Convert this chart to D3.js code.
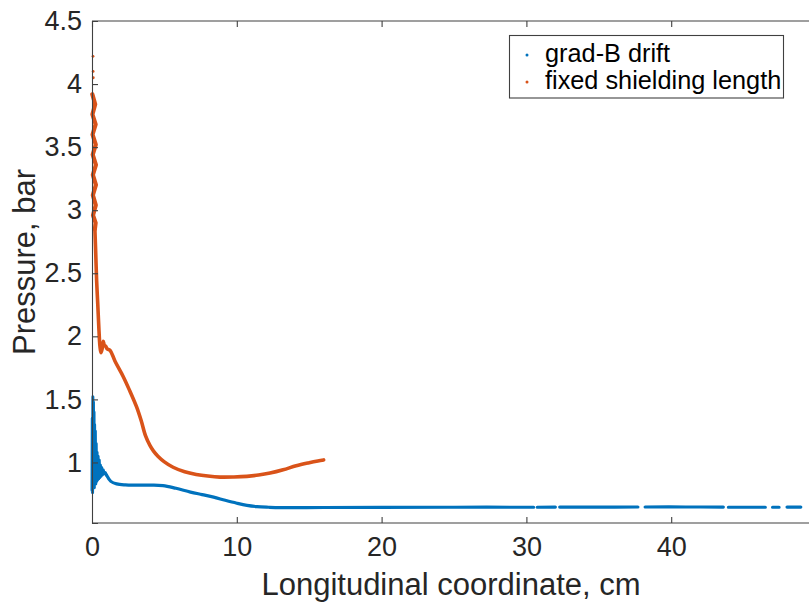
<!DOCTYPE html>
<html>
<head>
<meta charset="utf-8">
<script src="https://cdn.jsdelivr.net/npm/d3@7"></script>
<style>
  body { margin: 0; background: #fff; }
  svg { display: block; font-family: "Liberation Sans", Arial, Helvetica, sans-serif; }
</style>
</head>
<body>
<svg id="chart" width="809" height="603"></svg>
<script>
// ---- Data ----
const xTicks = [0, 10, 20, 30, 40];
const yTicks = [1, 1.5, 2, 2.5, 3, 3.5, 4, 4.5];
const seriesNames = ["grad-B drift", "fixed shielding length"];
const seriesColors = ["#0072BD", "#D95319"];

// fixed shielding length (orange): isolated top dots
const orangeDotX = [0.00, 0.01, 0.02];
const orangeDotY = [4.22, 4.10, 4.05];
// noisy column near x = 0
const orangeColX = [0.02, 0.22, 0.03, 0.25, 0.04, 0.26, 0.05, 0.27, 0.06, 0.27, 0.06, 0.26, 0.07, 0.25, 0.20];
const orangeColY = [3.92, 3.84, 3.76, 3.68, 3.60, 3.52, 3.44, 3.36, 3.28, 3.20, 3.12, 3.04, 2.96, 2.90, 2.85];
// smooth part
const orangeX = [0.20, 0.26, 0.32, 0.40, 0.48, 0.55, 0.62, 0.70, 0.78, 0.85, 0.95, 1.05, 1.24, 1.60, 2.16, 2.60, 3.08, 3.40,
  3.70, 4.00, 4.25, 4.55, 5.00, 5.60, 6.40, 7.20, 8.00, 8.84, 9.80, 10.70, 11.50, 12.30, 13.20, 14.10, 15.00, 15.60, 16.00];
const orangeY = [2.85, 2.65, 2.44, 2.25, 2.05, 1.92, 1.87, 1.90, 1.96, 1.93, 1.92, 1.90, 1.89, 1.80, 1.68, 1.57, 1.44, 1.33,
  1.21, 1.135, 1.09, 1.05, 1.005, 0.962, 0.926, 0.905, 0.892, 0.884, 0.885, 0.890, 0.900, 0.916, 0.942, 0.974, 0.998, 1.012, 1.020];

// grad-B drift (blue): noisy start
const blueNoiseX = [0.00, 0.02, 0.04, 0.06, 0.08, 0.10, 0.12, 0.14, 0.16, 0.18, 0.20, 0.23, 0.26, 0.29, 0.32, 0.35,
  0.38, 0.42, 0.46, 0.50, 0.54, 0.58, 0.62, 0.67, 0.72, 0.78, 0.85, 0.92, 1.00];
const blueNoiseY = [0.78, 1.35, 0.76, 1.52, 0.80, 1.48, 0.82, 1.40, 0.80, 1.30, 0.84, 1.25, 0.83, 1.15, 0.85, 1.08,
  0.86, 1.05, 0.87, 1.02, 0.88, 0.98, 0.89, 0.96, 0.90, 0.94, 0.91, 0.92, 0.90];
// smooth decay; null marks a gap between dotted runs
const blueX = [1.00, 1.30, 1.70, 2.30, 3.00, 4.00, 4.90, 5.80, 6.80, 7.60, 8.40,
  9.20, 10.00, 10.70, 11.40, 12.20, 13.00, 16.00, 20.00, 25.00, 30.50, null,
  30.75, 32.00, null, 32.30, 35.00, 37.70, null, 38.20, 41.00, 43.60, null, 43.95, 46.50, null,
  47.00, 47.45, null, 48.00, 48.95];
const blueY = [0.90, 0.85, 0.83, 0.822, 0.82, 0.82, 0.817, 0.795, 0.765, 0.745, 0.725,
  0.700, 0.677, 0.660, 0.650, 0.645, 0.642, 0.643, 0.644, 0.645, 0.645, null,
  0.645, 0.646, null, 0.646, 0.646, 0.647, null, 0.647, 0.647, 0.646, null, 0.645, 0.645, null,
  0.645, 0.645, null, 0.646, 0.646];

// ---- Layout ----
const svg = d3.select("#chart");
const mLeft = 92, mRight = 816, mTop = 21, mBottom = 523;
const x = d3.scaleLinear().domain([0, 50]).range([mLeft, mRight]);
const y = d3.scaleLinear().domain([0.52, 4.5]).range([mBottom, mTop]);
const axisColor = "#404040";
const textColor = "#262626";
const fontFam = "'Liberation Sans', Arial, Helvetica, sans-serif";

svg.append("defs").append("clipPath").attr("id", "plotclip")
  .append("rect").attr("x", mLeft - 2).attr("y", mTop - 2).attr("width", mRight - mLeft + 2).attr("height", mBottom - mTop + 4);

// Data
function toPts(xs, ys) { return xs.map((v, i) => (v === null ? null : [v, ys[i]])); }
const lineLin = d3.line().defined(d => d !== null).x(d => x(d[0])).y(d => y(d[1]));
const lineSmooth = d3.line().defined(d => d !== null).x(d => x(d[0])).y(d => y(d[1]))
  .curve(d3.curveCatmullRom.alpha(0.5));
const plot = svg.append("g").attr("clip-path", "url(#plotclip)");

function drawPath(pts, gen, color, w) {
  plot.append("path").datum(pts).attr("d", gen).attr("fill", "none").attr("stroke", color)
    .attr("stroke-width", w).attr("stroke-linejoin", "round").attr("stroke-linecap", "round");
}
drawPath(toPts(blueNoiseX, blueNoiseY), lineLin, seriesColors[0], 3.0);
drawPath(toPts(blueX, blueY), lineSmooth, seriesColors[0], 3.2);
drawPath(toPts(orangeColX, orangeColY), lineLin, seriesColors[1], 4.2);
drawPath(toPts(orangeX, orangeY), lineSmooth, seriesColors[1], 3.6);
plot.selectAll(".odot").data(toPts(orangeDotX, orangeDotY)).join("circle")
  .attr("cx", d => x(d[0]) + 1).attr("cy", d => y(d[1])).attr("r", 1.4).attr("fill", seriesColors[1]);

// Axes
const xAxis = d3.axisBottom(x).tickValues(xTicks).tickSize(-6).tickPadding(14).tickFormat(d3.format("d"));
const yAxis = d3.axisLeft(y).tickValues(yTicks).tickSize(-6).tickPadding(10).tickFormat(d => String(d));
const gx = svg.append("g").attr("transform", `translate(0,${mBottom})`).call(xAxis);
const gy = svg.append("g").attr("transform", `translate(${mLeft},0)`).call(yAxis);
const gxt = svg.append("g").attr("transform", `translate(0,${mTop})`)
  .call(d3.axisTop(x).tickValues(xTicks).tickSize(-6).tickFormat(""));
[gx, gy, gxt].forEach(g => {
  g.select(".domain").attr("stroke", axisColor).attr("stroke-width", 1.1);
  g.selectAll(".tick line").attr("stroke", axisColor).attr("stroke-width", 1.1);
  g.selectAll(".tick text").attr("fill", textColor).style("font-size", "27px").style("font-family", fontFam);
});
gx.select(".domain").attr("d", `M${mLeft},0H${mRight}`);
gxt.select(".domain").attr("d", `M${mLeft},0H${mRight}`);
gx.selectAll(".tick").filter(d => d === 0).select("line").remove();
gy.selectAll(".tick").filter(d => d === 4.5).select("line").remove();

// Axis labels
svg.append("text").attr("x", 451).attr("y", 595).attr("text-anchor", "middle")
  .attr("fill", textColor).style("font-size", "31px").text("Longitudinal coordinate, cm");
svg.append("text").attr("transform", `translate(35,${(mTop + mBottom) / 2 - 10}) rotate(-90)`)
  .attr("text-anchor", "middle").attr("fill", textColor).style("font-size", "31px").text("Pressure, bar");

// Legend
const lg = svg.append("g");
lg.append("rect").attr("x", 509.5).attr("y", 35.5).attr("width", 274).attr("height", 62.5)
  .attr("fill", "#fff").attr("stroke", axisColor).attr("stroke-width", 1.1);
const rowsY = [62, 89];
seriesNames.forEach((name, i) => {
  lg.append("circle").attr("cx", 527).attr("cy", rowsY[i] - 7).attr("r", 1.5).attr("fill", seriesColors[i]);
  lg.append("text").attr("x", 545).attr("y", rowsY[i]).attr("fill", "#000")
    .style("font-size", "25.3px").text(name);
});
</script>
</body>
</html>
